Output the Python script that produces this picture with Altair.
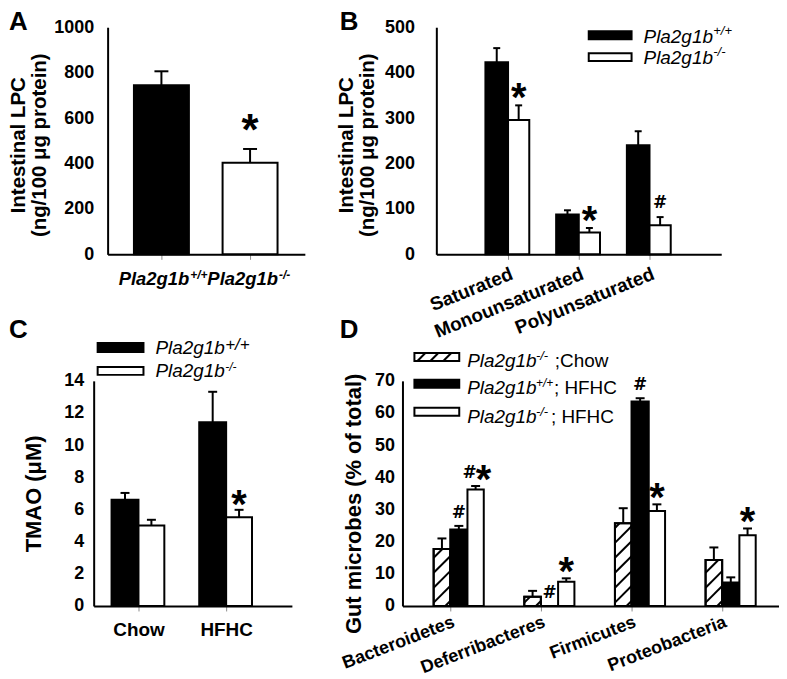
import json
import altair as alt
import pandas as pd

FONT = "Liberation Sans"

# ---------------- Panel A: intestinal LPC by genotype ----------------
a_genotype = ["Pla2g1b", "Pla2g1b"]
a_genotype_sup = ["+/+", "-/-"]
a_lpc = [745, 403]
a_lpc_err = [806, 464]
a_sig = ["", "*"]
a_yticks = [0, 200, 400, 600, 800, 1000]

# ---------------- Panel B: LPC classes ----------------
b_classes = ["Saturated", "Monounsaturated", "Polyunsaturated"]
b_wt = [423, 88, 240]
b_wt_err = [454, 97, 271]
b_ko = [296, 48, 64]
b_ko_err = [328, 58, 82]
b_wt_sig = ["", "", ""]
b_ko_sig = ["*", "*", "#"]
b_yticks = [0, 100, 200, 300, 400, 500]

# ---------------- Panel C: TMAO ----------------
c_diets = ["Chow", "HFHC"]
c_wt = [6.6, 11.42]
c_wt_err = [7.03, 13.32]
c_ko = [5.0, 5.52]
c_ko_err = [5.36, 5.98]
c_wt_sig = ["", ""]
c_ko_sig = ["", "*"]
c_yticks = [0, 2, 4, 6, 8, 10, 12, 14]

# ---------------- Panel D: gut microbes ----------------
d_phyla = ["Bacteroidetes", "Deferribacteres", "Firmicutes", "Proteobacteria"]
d_ko_chow = [17.7, 2.9, 25.7, 14.3]
d_ko_chow_err = [21.0, 4.7, 30.4, 18.2]
d_wt_hfhc = [23.8, 0.0, 63.6, 7.3]
d_wt_hfhc_err = [24.9, 0.0, 64.6, 8.9]
d_ko_hfhc = [36.2, 7.5, 29.5, 22.0]
d_ko_hfhc_err = [37.3, 8.6, 31.6, 24.1]
d_ko_chow_sig = ["", "", "", ""]
d_wt_hfhc_sig = ["#", "#", "#", ""]
d_ko_hfhc_sig = ["#*", "*", "*", "*"]
d_yticks = [0, 10, 20, 30, 40, 50, 60, 70]

gene = "Pla2g1b"
legend_b_sups = ["+/+", "-/-"]
legend_c_sups = ["+/+", "-/-"]
legend_d_sups = ["-/-", "+/+", "-/-"]
legend_d_suffix = [";Chow", "; HFHC", "; HFHC"]


def frame(series):
    rows = []
    for values, errs, sig, lo, hi, fill, hatch in series:
        for i, (v, e, s) in enumerate(zip(values, errs, sig)):
            rows.append({"left": i + lo, "right": i + hi, "center": i + (lo + hi) / 2,
                         "value": v, "err": e, "base": 0.0, "fill": fill,
                         "hatch": hatch, "sig": s})
    return pd.DataFrame(rows)


def one():
    return pd.DataFrame({"k": [0]})


def txt(t, x, y, size, weight="normal", style="normal", align="left", baseline="alphabetic"):
    return alt.Chart(pd.DataFrame({"t": [t]})).mark_text(
        fontSize=size, fontWeight=weight, fontStyle=style, align=align,
        baseline=baseline, color="black", font=FONT
    ).encode(x=alt.value(x), y=alt.value(y), text="t:N")


def rect(x, x2, y, y2, fill):
    return alt.Chart(one()).mark_rect(fill=fill, stroke="black", strokeWidth=2).encode(
        x=alt.value(x), x2=alt.value(x2), y=alt.value(y), y2=alt.value(y2))


def seg(x, x2, y, y2, w=2):
    return alt.Chart(one()).mark_rule(color="black", strokeWidth=w).encode(
        x=alt.value(x), x2=alt.value(x2), y=alt.value(y), y2=alt.value(y2))


def yaxis(values, title, label_gap, title_pad, title_size, title_y, line_h=None):
    kw = dict(values=values, title=title, format="d", grid=False, ticks=True,
              tickSize=label_gap - 2, tickOpacity=0, labelPadding=2, labelOverlap=False,
              domainColor="black", domainWidth=2,
              labelFontSize=18, labelFontWeight="bold", labelColor="black", labelFont=FONT,
              titlePadding=title_pad, titleFontSize=title_size, titleFontWeight="bold",
              titleColor="black", titleFont=FONT, titleY=title_y)
    if line_h:
        kw["titleLineHeight"] = line_h
    return alt.Axis(**kw)


def xaxis(values, names=None, angle=0, label_pad=5, label_size=19):
    kw = dict(values=values, title=None, grid=False, domainColor="black", domainWidth=2,
              tickColor="#8c8c8c", tickSize=5, tickWidth=1, labelFlush=False,
              labelOverlap=False, labelFontSize=label_size, labelFontWeight="bold",
              labelColor="black", labelFont=FONT, labelPadding=label_pad)
    if names is None:
        kw["labels"] = False
    else:
        kw["labelExpr"] = json.dumps(names) + "[datum.value]"
        if angle:
            kw.update(labelAngle=angle, labelAlign="right", labelBaseline="top")
    return alt.Axis(**kw)


def bar_layers(df, W, H, xdom, ydom, xax, yax, cap_px, star_dy, hash_dy,
               star_size=40, hash_size=17):
    xs = alt.Scale(domain=xdom, nice=False, zero=False)
    ys = alt.Scale(domain=ydom, nice=False, zero=False)
    pxx = W / (xdom[1] - xdom[0])
    pxy = H / (ydom[1] - ydom[0])

    def X(f):
        return alt.X(f, type="quantitative", scale=xs, axis=xax)

    def Y(f):
        return alt.Y(f, type="quantitative", scale=ys, axis=yax)

    layers = [alt.Chart(df).mark_bar(stroke="black", strokeWidth=2).encode(
        x=X("left"), x2=alt.X2("right"), y=Y("value"), y2=alt.Y2("base"),
        fill=alt.Fill("fill:N", scale=None))]
    hatched = df[df["hatch"]]
    if len(hatched):
        rows = []
        for r in hatched.itertuples():
            w = (r.right - r.left) * pxx
            h = r.value * pxy
            b = -w + 5
            while b < h:
                u0, u1 = max(0.0, -b), min(w, h - b)
                if u1 - u0 > 1:
                    rows.append({"hx": r.left + u0 / pxx, "hx2": r.left + u1 / pxx,
                                 "hy": (u0 + b) / pxy, "hy2": (u1 + b) / pxy})
                b += 15
        layers.append(alt.Chart(pd.DataFrame(rows)).mark_rule(color="black", strokeWidth=2).encode(
            x=X("hx"), x2=alt.X2("hx2"), y=Y("hy"), y2=alt.Y2("hy2")))
        layers.append(alt.Chart(hatched).mark_bar(fillOpacity=0, stroke="black", strokeWidth=2).encode(
            x=X("left"), x2=alt.X2("right"), y=Y("value"), y2=alt.Y2("base")))
    e = df[df["err"] > df["value"]].copy()
    e["clo"] = e["center"] - cap_px / pxx
    e["chi"] = e["center"] + cap_px / pxx
    layers.append(alt.Chart(e).mark_rule(color="black", strokeWidth=2).encode(
        x=X("center"), y=Y("value"), y2=alt.Y2("err")))
    layers.append(alt.Chart(e).mark_rule(color="black", strokeWidth=2).encode(
        x=X("clo"), x2=alt.X2("chi"), y=Y("err")))
    stars, hashes = [], []
    for r in df.itertuples():
        chars = list(r.sig)
        if not chars:
            continue
        offs = [0] if len(chars) == 1 else [-6, 8]
        for ch, o in zip(chars, offs):
            d = {"ax": r.center + o / pxx, "ay": max(r.err, r.value), "ch": ch}
            (stars if ch == "*" else hashes).append(d)
    if stars:
        layers.append(alt.Chart(pd.DataFrame(stars)).mark_text(
            fontSize=star_size, fontWeight="bold", font=FONT, baseline="alphabetic",
            align="center", dy=star_dy, color="black").encode(
            x=X("ax"), y=Y("ay"), text="ch:N"))
    if hashes:
        layers.append(alt.Chart(pd.DataFrame(hashes)).mark_text(
            fontSize=hash_size, fontWeight="bold", font="DejaVu Sans", baseline="alphabetic",
            align="center", dy=hash_dy, color="black").encode(
            x=X("ax"), y=Y("ay"), text="ch:N"))
    return layers, X


# ================= Panel A =================
WA, HA = 198, 228
a_df = frame([(a_lpc, a_lpc_err, a_sig, -0.31, 0.31, None, False)])
a_df["fill"] = ["black", "white"]
a_layers, a_X = bar_layers(
    a_df, WA, HA, [-0.607, 1.618], [0, 1000],
    xaxis([0, 1]),
    yaxis(a_yticks, ["Intestinal LPC", "(ng/100 \u03bcg protein)"],
          14, 4, 20.5, HA / 2 + 4, 21),
    7, -4, -8, star_size=44)
a_lab = pd.DataFrame({"cat": [0, 1], "main": a_genotype, "sup": a_genotype_sup})
a_layers.append(alt.Chart(a_lab).mark_text(
    fontSize=18.5, fontWeight="bold", fontStyle="italic", font=FONT, align="right",
    baseline="alphabetic", dx=28, color="black").encode(
    x=a_X("cat"), y=alt.value(259), text="main:N"))
a_layers.append(alt.Chart(a_lab).mark_text(
    fontSize=12, fontWeight="bold", fontStyle="italic", font=FONT, align="left",
    baseline="alphabetic", dx=29, color="black").encode(
    x=a_X("cat"), y=alt.value(253), text="sup:N"))
a_layers.append(txt("A", -99, -18, 26, "bold", baseline="top"))
panelA = alt.layer(*a_layers).properties(width=WA, height=HA)

# ================= Panel B =================
WB, HB = 286, 228
b_df = frame([(b_wt, b_wt_err, b_wt_sig, -0.32, 0.0, "black", False),
              (b_ko, b_ko_err, b_ko_sig, 0.0, 0.30, "white", False)])
b_layers, _ = bar_layers(
    b_df, WB, HB, [-1.014, 3.014], [0, 500],
    xaxis([0, 1, 2], b_classes, 338, 5),
    yaxis(b_yticks, ["Intestinal LPC", "(ng/100 \u03bcg protein)"],
          22, 7, 20.5, HB / 2 + 4, 21),
    3.5, 6, -9)
b_layers += [rect(153, 196, 4, 12, "black"), rect(153, 196, 26, 34, "white")]
for sup, base_y in zip(legend_b_sups, [16, 37]):
    b_layers.append(txt(gene, 208, base_y, 19, style="italic"))
    b_layers.append(txt(sup, 278, base_y - 8, 13, style="italic"))
b_layers.append(txt("B", -97, -18, 26, "bold", baseline="top"))
panelB = alt.layer(*b_layers).properties(width=WB, height=HB)

# ================= Panel C =================
WC, HC = 199, 226
c_df = frame([(c_wt, c_wt_err, c_wt_sig, -0.307, 0.0, "black", False),
              (c_ko, c_ko_err, c_ko_sig, 0.0, 0.295, "white", False)])
c_layers, _ = bar_layers(
    c_df, WC, HC, [-0.511, 1.75], [0, 14],
    xaxis([0, 1], c_diets, 0, 10),
    yaxis(c_yticks, "TMAO (\u03bcM)", 10, 18, 22, HC / 2),
    4.5, 8, -8)
c_layers += [rect(4, 50, -38, -29, "black"), rect(4, 50, -14, -6, "white")]
c_layers.append(txt(gene, 62, -27, 19, style="italic"))
c_layers.append(txt(legend_c_sups[0], 132, -31, 17, style="italic"))
c_layers.append(txt(gene, 62, -4, 19, style="italic"))
c_layers.append(txt(legend_c_sups[1], 132, -10, 12, style="italic"))
c_layers.append(txt("C", -85, -64, 26, "bold", baseline="top"))
panelC = alt.layer(*c_layers).properties(width=WC, height=HC)

# ================= Panel D =================
WD, HD = 378, 226
d_df = frame([(d_ko_chow, d_ko_chow_err, d_ko_chow_sig, -0.183, 0.0, "white", True),
              (d_wt_hfhc, d_wt_hfhc_err, d_wt_hfhc_sig, 0.0, 0.19, "black", False),
              (d_ko_hfhc, d_ko_hfhc_err, d_ko_hfhc_sig, 0.19, 0.37, "white", False)])
d_layers, _ = bar_layers(
    d_df, WD, HD, [-0.527, 3.627], [0, 70],
    xaxis([0, 1, 2, 3], d_phyla, 339, 2, 18),
    yaxis(d_yticks, "Gut microbes (% of total)", 8, 9, 22, HD / 2 + 10),
    4.5, 7, -8)
rows_y = [(-28, -20, -14), (-1, 7, 13), (27, 35, 42)]
fills = ["white", "black", "white"]
sup_sizes = [13, 12, 13]
for (y0, y1, base_y), fill, sup, ss, suf, sx in zip(rows_y, fills, legend_d_sups, sup_sizes,
                                                    legend_d_suffix, [153, 152, 149]):
    d_layers.append(rect(12, 57, y0, y1, fill))
    d_layers.append(txt(gene, 65, base_y, 19, style="italic"))
    d_layers.append(txt(sup, 134, base_y - 7, ss, style="italic"))
    d_layers.append(txt(suf, sx, base_y, 19))
for hx in [15, 28, 41]:
    d_layers.append(seg(hx, hx + 8, -20, -28, 2))
d_layers.append(txt("D", -63, -64, 26, "bold", baseline="top"))
panelD = alt.layer(*d_layers).properties(width=WD, height=HD)

# ================= layout =================
spacer = alt.Chart(one()).mark_point(opacity=0, size=1).encode(
    x=alt.value(0), y=alt.value(0)).properties(width=14, height=1)
top = alt.hconcat(spacer, alt.hconcat(panelA, panelB, spacing=132, bounds="flush"),
                  spacing=0, bounds="flush")
bottom = alt.hconcat(panelC, panelD, spacing=111, bounds="flush")
chart = alt.vconcat(top, bottom, spacing=355, bounds="flush").properties(
    padding={"left": 0, "top": 0, "right": 0, "bottom": 0}
).configure(font=FONT).configure_view(stroke=None)

chart.save("out.html", embed_options={"renderer": "svg", "actions": False})
